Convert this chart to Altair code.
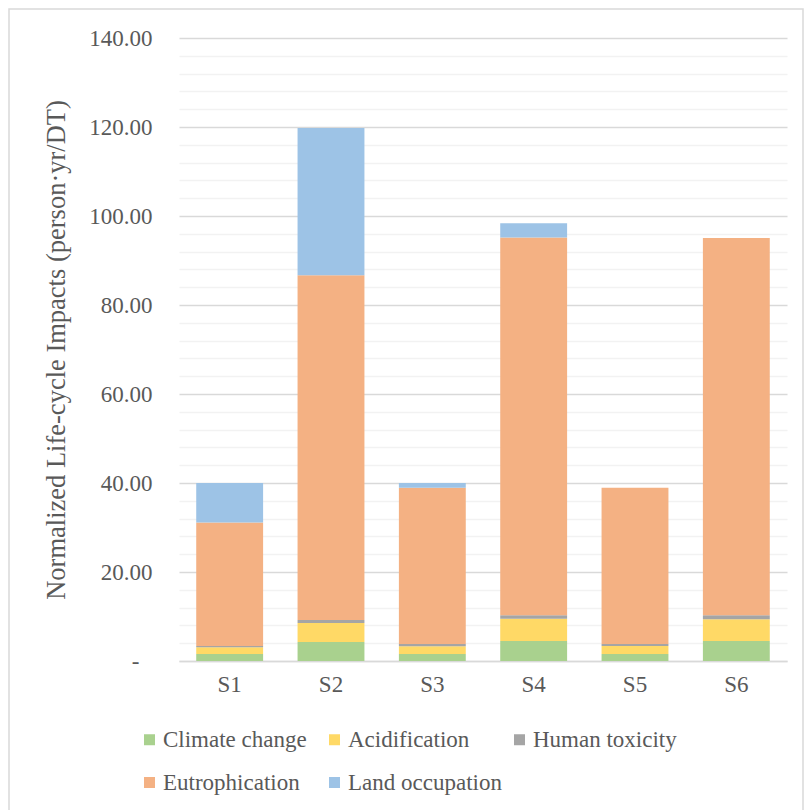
import altair as alt
import pandas as pd

# Scenario labels and normalized impact per category (person·yr/DT)
scenarios = ["S1", "S2", "S3", "S4", "S5", "S6"]
categories = ["Climate change", "Acidification", "Human toxicity",
              "Eutrophication", "Land occupation"]
climate_change = [1.57, 4.27, 1.57, 4.50, 1.57, 4.50]
acidification = [1.51, 4.27, 1.73, 5.00, 1.80, 4.87]
human_toxicity = [0.29, 0.66, 0.52, 0.77, 0.45, 0.90]
eutrophication = [27.73, 77.50, 35.10, 84.90, 35.10, 84.80]
land_occupation = [8.90, 33.10, 1.10, 3.20, 0.00, 0.00]
colors = ["#A9D18E", "#FFD966", "#A5A5A5", "#F4B183", "#9DC3E6"]

series = [climate_change, acidification, human_toxicity,
          eutrophication, land_occupation]
rows = []
for k, (cat, vals) in enumerate(zip(categories, series)):
    for s, v in zip(scenarios, vals):
        rows.append({"scenario": s, "category": cat, "value": v, "order": k})
df = pd.DataFrame(rows)

FONT = "Liberation Serif"
TEXT = "#595959"

bars = alt.Chart(df).mark_bar().encode(
    x=alt.X("scenario:N", sort=scenarios,
            scale=alt.Scale(paddingInner=0.34, paddingOuter=0.17),
            axis=alt.Axis(title=None, labelAngle=0, labelFont=FONT,
                          labelFontSize=23, labelColor=TEXT, labelPadding=12,
                          ticks=False, domainColor="#D9D9D9", domainWidth=1.5,
                          grid=False)),
    y=alt.Y("value:Q", stack="zero",
            scale=alt.Scale(domain=[0, 140], nice=False),
            axis=alt.Axis(
                title="Normalized Life-cycle Impacts (person·yr/DT)",
                titleFont=FONT, titleFontSize=26.5, titleFontWeight="normal",
                titleColor=TEXT, titlePadding=18,
                values=list(range(0, 141, 4)),
                labelExpr="datum.value == 0 ? '-' : "
                          "(datum.value % 20 == 0 ? format(datum.value, '.2f') : '')",
                labelFont=FONT, labelFontSize=23, labelColor=TEXT,
                labelPadding={"condition": {"test": "datum.value == 0",
                                            "value": 40},
                              "value": 27},
                ticks=False, domain=False,
                gridColor={"condition": {"test": "datum.value % 20 == 0",
                                         "value": "#D9D9D9"},
                           "value": "#F2F2F2"},
                gridWidth=1.5)),
    color=alt.Color("category:N",
                    scale=alt.Scale(domain=categories, range=colors),
                    legend=alt.Legend(
                        title=None, orient="none", legendX=-41, legendY=690,
                        direction="horizontal",
                        columns=3, gridAlign="all", columnPadding=6,
                        rowPadding=19, symbolType="square", symbolSize=121,
                        symbolStrokeWidth=0, symbolOpacity=1,
                        labelFont=FONT, labelFontSize=23, labelColor=TEXT,
                        labelOffset=2, labelLimit=300)),
    order=alt.Order("order:Q", sort="ascending"),
    tooltip=["scenario:N", "category:N", "value:Q"],
)

# Light outline around the whole chart area
frame = alt.Chart(pd.DataFrame({"f": [0]})).mark_rect(
    fill=None, stroke="#D9D9D9", strokeWidth=1.5, clip=False
).encode(
    x=alt.value(-170), x2=alt.value(624),
    y=alt.value(-29), y2=alt.value(820),
)

chart = alt.layer(frame, bars).properties(
    width=608, height=623,
    autosize=alt.AutoSizeParams(type="none"),
    padding={"left": 179, "top": 38, "right": 17, "bottom": 149},
    background="white",
).configure_view(stroke=None)

chart.save("out.html", embed_options={"renderer": "svg", "actions": False})
